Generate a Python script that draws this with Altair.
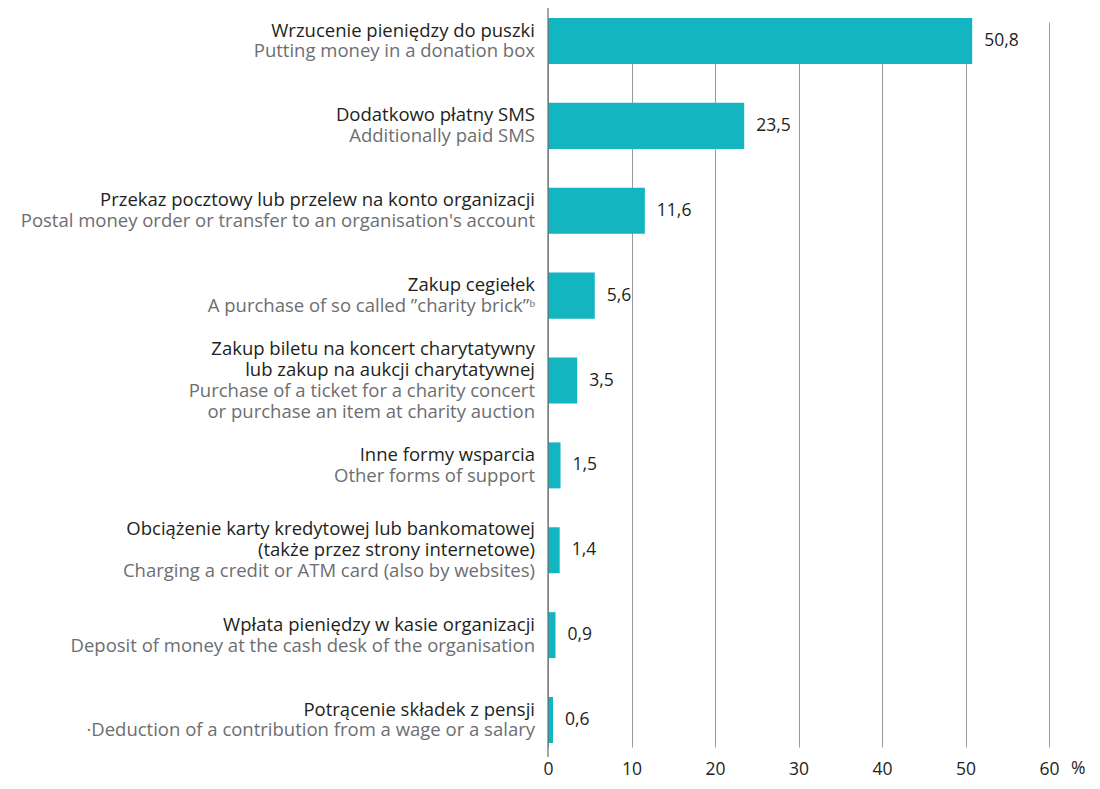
import altair as alt
import pandas as pd

categories = [
    "Wrzucenie pieniędzy do puszki",
    "Dodatkowo płatny SMS",
    "Przekaz pocztowy lub przelew na konto organizacji",
    "Zakup cegiełek",
    "Zakup biletu na koncert charytatywny",
    "Inne formy wsparcia",
    "Obciążenie karty kredytowej lub bankomatowej",
    "Wpłata pieniędzy w kasie organizacji",
    "Potrącenie składek z pensji",
]
values = [50.8, 23.5, 11.6, 5.6, 3.5, 1.5, 1.4, 0.9, 0.6]
polish_lines = [
    ["Wrzucenie pieniędzy do puszki"],
    ["Dodatkowo płatny SMS"],
    ["Przekaz pocztowy lub przelew na konto organizacji"],
    ["Zakup cegiełek"],
    ["Zakup biletu na koncert charytatywny", "lub zakup na aukcji charytatywnej"],
    ["Inne formy wsparcia"],
    ["Obciążenie karty kredytowej lub bankomatowej", "(także przez strony internetowe)"],
    ["Wpłata pieniędzy w kasie organizacji"],
    ["Potrącenie składek z pensji"],
]
english_lines = [
    ["Putting money in a donation box"],
    ["Additionally paid SMS"],
    ["Postal money order or transfer to an organisation's account"],
    ["A purchase of so called \u201dcharity brick\u201d\u1d47"],
    ["Purchase of a ticket for a charity concert", "or purchase an item at charity auction"],
    ["Other forms of support"],
    ["Charging a credit or ATM card (also by websites)"],
    ["Deposit of money at the cash desk of the organisation"],
    ["\u00b7Deduction of a contribution from a wage or a salary"],
]
x_ticks = [0, 10, 20, 30, 40, 50, 60]

FONT = "Open Sans"
BAR = "#13b5c1"
DARK = "#231f20"
GREY = "#6d6e71"
LH = 10.4  # half line height

bars_df = pd.DataFrame({"cat": categories, "value": values})

rows = []
for cat, pl, el in zip(categories, polish_lines, english_lines):
    lines = [(t, "pl") for t in pl] + [(t, "en") for t in el]
    n = len(lines)
    for i, (t, lang) in enumerate(lines):
        rows.append({"cat": cat, "txt": t, "lang": lang, "slot": 2 * i - (n - 1)})
lines_df = pd.DataFrame(rows)

W, H = 501, 749
yscale = alt.Scale(domain=categories, range=[10, 735], paddingInner=0.458, paddingOuter=0)
xscale = alt.Scale(domain=[0, 60], nice=False)

base = alt.Chart(bars_df)

bars = base.mark_bar(color=BAR).encode(
    x=alt.X("value:Q", scale=xscale,
            axis=alt.Axis(values=x_ticks, title=None, domain=False, ticks=False,
                          grid=True, gridColor="#9a9a9a", gridWidth=1,
                          labelFont=FONT, labelFontSize=17.5, labelColor=DARK,
                          labelPadding=3, labelFlush=False)),
    y=alt.Y("cat:N", scale=yscale, axis=None, sort=categories),
)

zero = alt.Chart(pd.DataFrame({"z": [0]})).mark_rule(color="#6a6a6a", strokeWidth=1.2).encode(
    x=alt.X("z:Q", scale=xscale), y=alt.value(0), y2=alt.value(H))

vlabels = base.transform_calculate(
    lab="replace(format(datum.value, '.1f'), '.', ',')"
).mark_text(align="left", baseline="middle", dx=12, font=FONT, fontSize=17.5, color=DARK).encode(
    x=alt.X("value:Q", scale=xscale),
    y=alt.Y("cat:N", scale=yscale, sort=categories),
    text="lab:N",
)

text_layers = []
for s in range(-3, 4):
    text_layers.append(
        alt.Chart(lines_df).transform_filter(alt.datum.slot == s).mark_text(
            align="right", baseline="middle", dy=s * LH, font=FONT, fontSize=18.5
        ).encode(
            x=alt.value(-13),
            y=alt.Y("cat:N", scale=yscale, sort=categories),
            text="txt:N",
            color=alt.Color("lang:N", scale=alt.Scale(domain=["pl", "en"], range=[DARK, GREY]), legend=None),
        )
    )

pct = alt.Chart(pd.DataFrame({"v": [60], "t": ["%"]})).mark_text(
    align="left", baseline="top", dx=22, dy=3, font=FONT, fontSize=17.5, color=DARK
).encode(x=alt.X("v:Q", scale=xscale), y=alt.value(H), text="t:N")

chart = alt.layer(bars, zero, vlabels, *text_layers, pct).properties(
    width=W, height=H,
    autosize=alt.AutoSizeParams(type="none"),
    padding={"left": 540, "top": 0, "right": 43, "bottom": 24},
).configure_view(stroke=None)

chart.save("out.html", embed_options={"renderer": "svg", "actions": False})
